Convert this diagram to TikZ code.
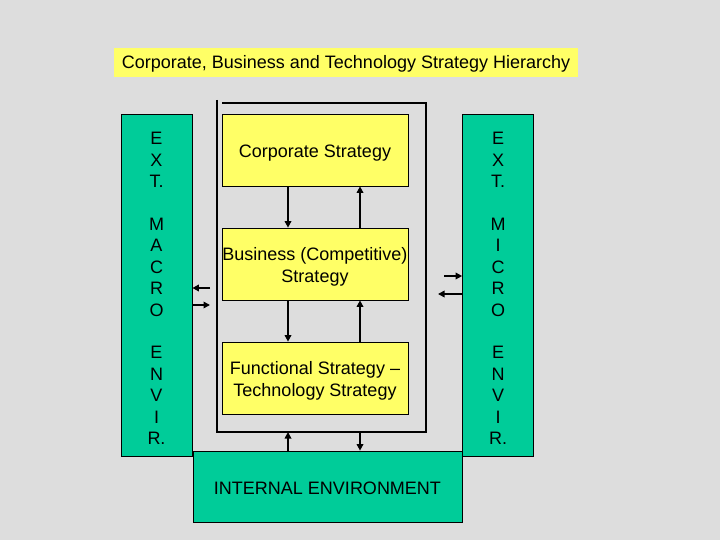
\documentclass[tikz,border=0pt]{standalone}
\usepackage{fontspec}
\setmainfont{Liberation Sans}
\usetikzlibrary{arrows.meta}
\definecolor{bgc}{HTML}{DDDDDD}
\definecolor{grn}{HTML}{00CC99}
\definecolor{ylw}{HTML}{FFFF66}
\begin{document}
\begin{tikzpicture}[x=1pt,y=-1pt,
  txt/.style={font=\fontsize{18}{21.43}\selectfont, align=center, inner sep=0pt},
  lbl/.style={txt, yshift=-3pt},
  stxt/.style={font=\fontsize{18}{22.5}\selectfont, align=center, inner sep=0pt, yshift=-3pt},
  envbox/.style={draw=black, line width=0.7pt, fill=grn, minimum width=71pt, minimum height=342pt, inner sep=0pt},
  stratbox/.style={draw=black, line width=0.7pt, fill=ylw, inner sep=0pt, minimum width=186pt, minimum height=72pt},
  arr/.style={line width=1.6pt, -{Triangle[length=6.5pt,width=6.5pt]}},
  frame/.style={line width=1.1pt}
]
\fill[bgc] (0,0) rectangle (720,540);
\useasboundingbox (0,0) rectangle (720,540);

% title
\node[fill=ylw, inner sep=0pt, minimum width=464pt, minimum height=29pt,
  label={[lbl,yshift=1.5pt]center:Corporate, Business and Technology Strategy Hierarchy}] (title) at (346,62.5) {};

% environment boxes
\node[envbox, label={[lbl,yshift=-0.5pt]center:E\\X\\T.\\\mbox{}\\M\\A\\C\\R\\O\\\mbox{}\\E\\N\\V\\I\\R.}] (left) at (156.5,285) {};
\node[envbox, label={[lbl,yshift=-0.5pt]center:E\\X\\T.\\\mbox{}\\M\\I\\C\\R\\O\\\mbox{}\\E\\N\\V\\I\\R.}] (right) at (498,285) {};

% inner frame
\draw[frame] (217,100) -- (217,432) -- (426,432) -- (426,103) -- (222,103);
\coordinate (fb) at (0,432);

% strategy boxes
\node[stratbox, label={[stxt]center:Corporate Strategy}] (corp) at (315,150) {};
\node[stratbox, label={[stxt]center:Business (Competitive)\\Strategy}] (bus) at (315,264) {};
\node[stratbox, label={[stxt]center:Functional Strategy --\\Technology Strategy}] (func) at (315,378) {};

% internal environment
\node[draw=black, line width=0.7pt, fill=grn, inner sep=0pt, minimum width=269pt, minimum height=71pt,
  label={[lbl,yshift=1.5pt]center:INTERNAL ENVIRONMENT}] (ie) at (327.5,486.5) {};

% vertical arrows
\coordinate (xl) at (288,0);
\coordinate (xr) at (360,0);
\draw[arr] (corp.south -| xl) -- (bus.north -| xl);
\draw[arr] (bus.north -| xr) -- (corp.south -| xr);
\draw[arr] (bus.south -| xl) -- (func.north -| xl);
\draw[arr] (func.north -| xr) -- (bus.south -| xr);
\draw[arr] (ie.north -| xl) -- (fb -| xl);
\draw[arr] (fb -| xr) -- (ie.north -| xr);

% side arrows
\coordinate (la) at (210,288);
\coordinate (lb) at (210,305);
\draw[arr] (la) -- (left.east |- la);
\draw[arr] (left.east |- lb) -- (lb);
\coordinate (ra) at (444,276);
\coordinate (rb) at (438,294);
\draw[arr] (ra) -- (right.west |- ra);
\draw[arr] (right.west |- rb) -- (rb);
\end{tikzpicture}
\end{document}
